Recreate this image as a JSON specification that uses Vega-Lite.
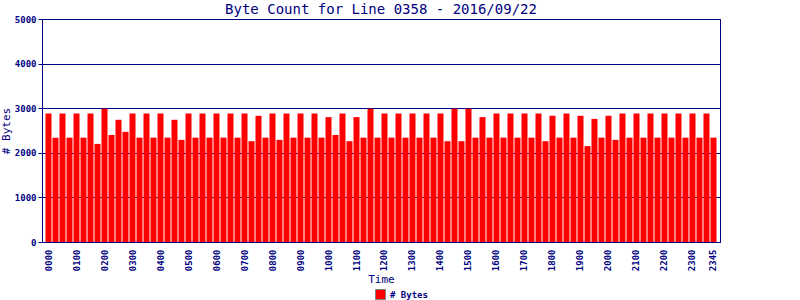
{
  "$schema": "https://vega.github.io/schema/vega-lite/v6.json",
  "autosize": {"type": "none"},
  "padding": {"left": 42, "top": 19, "right": 80, "bottom": 58},
  "width": 678,
  "height": 223,
  "background": "white",
  "title": {"text": "Byte Count for Line 0358 - 2016/09/22", "font": "DejaVu Sans Mono", "fontSize": 14, "fontWeight": "normal", "color": "#000080", "anchor": "middle", "offset": -2},
  "config": {"view": {"stroke": "#000080", "strokeWidth": 1}},
  "data": {"values": [
    {"t":"0000","v":2880},{"t":"0015","v":2340},{"t":"0030","v":2880},{"t":"0045","v":2340},
    {"t":"0100","v":2880},{"t":"0115","v":2340},{"t":"0130","v":2880},{"t":"0145","v":2200},
    {"t":"0200","v":2990},{"t":"0215","v":2400},{"t":"0230","v":2740},{"t":"0245","v":2470},
    {"t":"0300","v":2880},{"t":"0315","v":2340},{"t":"0330","v":2880},{"t":"0345","v":2340},
    {"t":"0400","v":2880},{"t":"0415","v":2340},{"t":"0430","v":2740},{"t":"0445","v":2290},
    {"t":"0500","v":2880},{"t":"0515","v":2340},{"t":"0530","v":2880},{"t":"0545","v":2340},
    {"t":"0600","v":2880},{"t":"0615","v":2340},{"t":"0630","v":2880},{"t":"0645","v":2340},
    {"t":"0700","v":2880},{"t":"0715","v":2260},{"t":"0730","v":2830},{"t":"0745","v":2340},
    {"t":"0800","v":2880},{"t":"0815","v":2290},{"t":"0830","v":2880},{"t":"0845","v":2340},
    {"t":"0900","v":2880},{"t":"0915","v":2340},{"t":"0930","v":2880},{"t":"0945","v":2340},
    {"t":"1000","v":2800},{"t":"1015","v":2400},{"t":"1030","v":2880},{"t":"1045","v":2260},
    {"t":"1100","v":2800},{"t":"1115","v":2340},{"t":"1130","v":2990},{"t":"1145","v":2340},
    {"t":"1200","v":2880},{"t":"1215","v":2340},{"t":"1230","v":2880},{"t":"1245","v":2340},
    {"t":"1300","v":2880},{"t":"1315","v":2340},{"t":"1330","v":2880},{"t":"1345","v":2340},
    {"t":"1400","v":2880},{"t":"1415","v":2260},{"t":"1430","v":2990},{"t":"1445","v":2260},
    {"t":"1500","v":2990},{"t":"1515","v":2340},{"t":"1530","v":2800},{"t":"1545","v":2340},
    {"t":"1600","v":2880},{"t":"1615","v":2340},{"t":"1630","v":2880},{"t":"1645","v":2340},
    {"t":"1700","v":2880},{"t":"1715","v":2340},{"t":"1730","v":2880},{"t":"1745","v":2260},
    {"t":"1800","v":2830},{"t":"1815","v":2340},{"t":"1830","v":2880},{"t":"1845","v":2340},
    {"t":"1900","v":2830},{"t":"1915","v":2150},{"t":"1930","v":2760},{"t":"1945","v":2340},
    {"t":"2000","v":2830},{"t":"2015","v":2290},{"t":"2030","v":2880},{"t":"2045","v":2340},
    {"t":"2100","v":2880},{"t":"2115","v":2340},{"t":"2130","v":2880},{"t":"2145","v":2340},
    {"t":"2200","v":2880},{"t":"2215","v":2340},{"t":"2230","v":2880},{"t":"2245","v":2340},
    {"t":"2300","v":2880},{"t":"2315","v":2340},{"t":"2330","v":2880},{"t":"2345","v":2340}
  ]},
  "mark": {"type": "bar"},
  "encoding": {
    "x": {
      "field": "t", "type": "ordinal", "sort": null,
      "scale": {"paddingInner": 0.14, "paddingOuter": 0.5},
      "axis": {
        "values": ["0000","0100","0200","0300","0400","0500","0600","0700","0800","0900","1000","1100","1200","1300","1400","1500","1600","1700","1800","1900","2000","2100","2200","2300","2345"],
        "labelAngle": 270, "labelFont": "DejaVu Sans Mono", "labelFontSize": 9, "labelFontWeight": "bold", "labelColor": "#000080",
        "labelPadding": 7, "ticks": false, "domainColor": "#000080", "labelOverlap": false,
        "title": "Time", "titleFont": "DejaVu Sans Mono", "titleFontSize": 11, "titleFontWeight": "normal", "titleColor": "#000080", "titlePadding": 3
      }
    },
    "y": {
      "field": "v", "type": "quantitative",
      "scale": {"domain": [0, 5000], "nice": false},
      "axis": {
        "values": [0, 1000, 2000, 3000, 4000, 5000], "format": "d",
        "grid": true, "gridColor": "#000080", "gridOpacity": 1, "gridWidth": 1,
        "domainColor": "#000080", "tickColor": "#000080", "tickSize": 4,
        "labelFont": "DejaVu Sans Mono", "labelFontSize": 9, "labelFontWeight": "bold", "labelColor": "#000080", "labelPadding": 2,
        "title": "# Bytes", "titleFont": "DejaVu Sans Mono", "titleFontSize": 11, "titleFontWeight": "normal", "titleColor": "#000080", "titlePadding": 3
      }
    },
    "color": {
      "datum": "# Bytes",
      "scale": {"range": ["#ff0000"]},
      "legend": {
        "orient": "none", "legendX": 333, "legendY": 270, "title": null,
        "symbolType": "square", "symbolSize": 100, "symbolStrokeColor": "#808080", "symbolStrokeWidth": 1, "symbolOpacity": 1,
        "labelFont": "DejaVu Sans Mono", "labelFontSize": 9, "labelFontWeight": "bold", "labelColor": "#000080"
      }
    }
  }
}
